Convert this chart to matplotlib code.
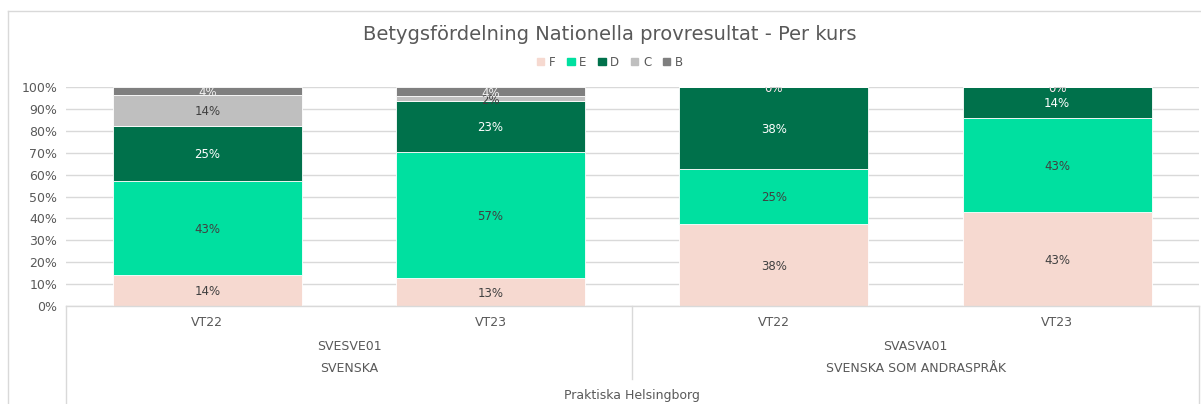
import numpy as np
import matplotlib.pyplot as plt
from matplotlib.lines import Line2D
from matplotlib.patches import Patch

terms = ["VT22", "VT23", "VT22", "VT23"]
courses = ["SVESVE01", "SVASVA01"]
subjects = ["SVENSKA", "SVENSKA SOM ANDRASPRÅK"]
school = "Praktiska Helsingborg"
grades = ["F", "E", "D", "C", "B"]

# share of each grade per bar (percent)
F = [14.3, 12.8, 37.5, 42.9]
E = [42.9, 57.4, 25.0, 42.9]
D = [25.0, 23.4, 37.5, 14.2]
C = [14.3, 2.1, 0.0, 0.0]
B = [3.5, 4.3, 0.0, 0.0]

colors = ["#F6D9D0", "#00E0A0", "#00714B", "#BFBFBF", "#7F7F7F"]
label_colors = ["#404040", "#404040", "#FFFFFF", "#404040", "#F2F2F2"]
gray = "#595959"
linec = "#D9D9D9"

fig = plt.figure(figsize=(12.01, 4.04), dpi=100)
ax = fig.add_axes([65.75 / 1201, 98 / 404, 1133 / 1201, 219 / 404])

x = np.arange(len(terms))
bottom = np.zeros(len(terms))
for g, vals, col, lc in zip(grades, [F, E, D, C, B], colors, label_colors):
    vals = np.array(vals)
    ax.bar(x, vals, 0.667, bottom=bottom, color=col, label=g,
           edgecolor="white", linewidth=0.6, zorder=2)
    for xi, b, v in zip(x, bottom, vals):
        ax.text(xi, b + v / 2 - 0.6, f"{v:.0f}%", ha="center", va="center",
                fontsize=8.5, color=lc, zorder=3, clip_on=True)
    bottom += vals

ax.set_xlim(-0.5, len(terms) - 0.5)
ax.set_ylim(0, 100)
ax.set_yticks(np.arange(0, 101, 10))
ax.set_yticklabels([f"{v}%" for v in range(0, 101, 10)], fontsize=9, color=gray)
ax.tick_params(axis="y", length=0, pad=6)
ax.set_xticks([])
ax.grid(axis="y", color=linec, linewidth=1, zorder=0)
for s in ax.spines.values():
    s.set_visible(False)

# hierarchical category axis
px = 1 / 219  # one pixel in axes fraction (vertical)
tr = ax.get_xaxis_transform()
kw = dict(transform=tr, clip_on=False, color=linec, linewidth=1)
ax.plot([-0.5, 3.5], [0, 0], **kw)
ax.plot([-0.5, -0.5], [0, -98 * px], **kw)
ax.plot([3.5, 3.5], [0, -98 * px], **kw)
ax.plot([1.5, 1.5], [0, -73 * px], **kw)
for xi, t in zip(x, terms):
    ax.text(xi, -17 * px, t, transform=tr, ha="center", va="center", fontsize=9, color=gray)
for i, (c, s) in enumerate(zip(courses, subjects)):
    ax.text(2 * i + 0.5, -41 * px, c, transform=tr, ha="center", va="center", fontsize=9, color=gray)
    ax.text(2 * i + 0.5, -63 * px, s, transform=tr, ha="center", va="center", fontsize=9, color=gray)
ax.text(1.5, -90 * px, school, transform=tr, ha="center", va="center", fontsize=9, color=gray)

fig.text(0.508, 1 - 35 / 404, "Betygsfördelning Nationella provresultat - Per kurs",
         ha="center", va="center", fontsize=14, color=gray)
handles = [Patch(color=c, label=g) for g, c in zip(grades, colors)]
fig.legend(handles=handles, loc="center", bbox_to_anchor=(0.508, 1 - 62 / 404),
           ncol=5, frameon=False, fontsize=8.5, handlelength=0.6, handleheight=0.6,
           handletextpad=0.4, columnspacing=1.0, labelcolor=gray)

# chart frame (top and left edges visible)
fig.add_artist(Line2D([8 / 1201, 1], [1 - 11 / 404] * 2, color=linec, linewidth=1))
fig.add_artist(Line2D([8 / 1201] * 2, [0, 1 - 11 / 404], color=linec, linewidth=1))

fig.savefig("out.png", dpi=100)
